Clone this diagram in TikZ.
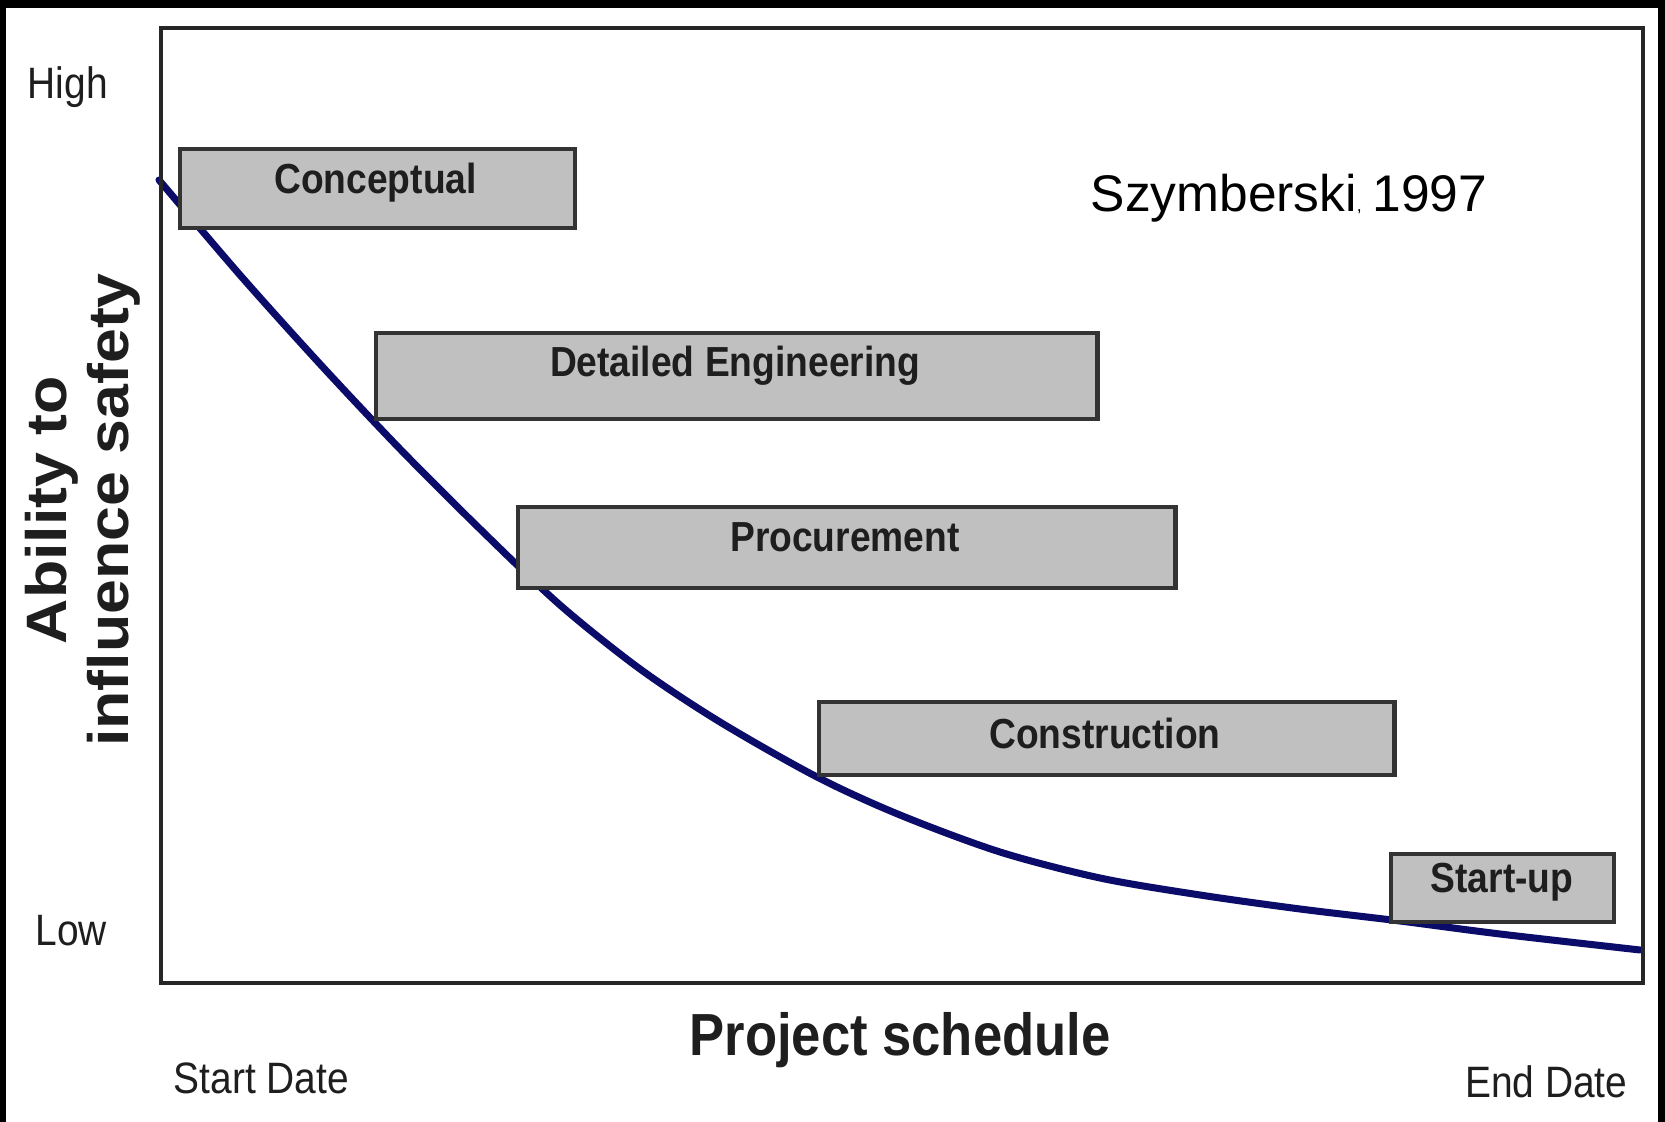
\documentclass[tikz,border=0pt]{standalone}
\usepackage{fontspec}
\setmainfont{Liberation Sans}
\newfontfamily\chartfont[FakeStretch=0.885]{Liberation Sans}
\newfontfamily\axisfont[FakeStretch=1.1]{Liberation Sans}
\definecolor{framegray}{HTML}{262626}
\definecolor{phasefill}{HTML}{C0C0C0}
\definecolor{phaseedge}{HTML}{333333}
\definecolor{curvenavy}{HTML}{0B0B6A}
\definecolor{inkgray}{HTML}{1E1E1E}
\tikzset{
  phase/.style={draw=phaseedge, fill=phasefill, line width=1.2pt, inner sep=0pt, anchor=north west},
  phaselabel/.style={inner sep=0pt, anchor=base, text=inkgray, font=\chartfont\bfseries\fontsize{11.95}{14}\selectfont},
  ticklabel/.style={inner sep=0pt, text=inkgray, font=\chartfont\fontsize{12.5}{15}\selectfont},
  axislabel/.style={inner sep=0pt, anchor=base, rotate=90, text=inkgray, font=\axisfont\bfseries\fontsize{16.2}{19}\selectfont},
}
\begin{document}
\begin{tikzpicture}[x=0.01cm, y=-0.01cm]
  % page and outer black border
  \useasboundingbox (0,0) rectangle (1665,1122);
  \fill[black] (0,0) rectangle (1665,1122);
  \fill[white] (6,8) rectangle (1658,1122);

  % ability curve
  \draw[curvenavy, line width=2pt, line cap=round]
    plot[smooth, tension=0.5] coordinates {
      (159,180) (240,275) (320,364) (400,449) (480,529) (560,605)
      (640,669) (720,722) (817,777) (900,815) (1000,852) (1100,878)
      (1200,895) (1300,909) (1400,921) (1500,934) (1640,950)};

  % plot frame
  \node[draw=framegray, line width=1.15pt, inner sep=0pt, anchor=north west,
        minimum width=14.81cm, minimum height=9.54cm] (frame) at (159,26) {};

  % project phases
  \node[phase, minimum width=3.95cm, minimum height=0.79cm] (concept) at (178,147) {};
  \node[phase, minimum width=7.21cm, minimum height=0.86cm] (detail)  at (374,331) {};
  \node[phase, minimum width=6.57cm, minimum height=0.81cm] (procure) at (516,505) {};
  \node[phase, minimum width=5.75cm, minimum height=0.73cm] (build)   at (817,700) {};
  \node[phase, minimum width=2.23cm, minimum height=0.68cm] (startup) at (1389,852) {};

  \node[phaselabel] (conceptT) at (375.5,194) {Conceptual};
  \node[phaselabel] (detailT)  at (735,377)   {Detailed Engineering};
  \node[phaselabel] (procureT) at (845,552)   {Procurement};
  \node[phaselabel] (buildT)   at (1105,749)  {Construction};
  \node[phaselabel] (startupT) at (1502,893)  {Start-up};

  % axis texts
  \node[ticklabel, anchor=base west] (high)  at (27,99)    {High};
  \node[ticklabel, anchor=base west] (low)   at (35,946)   {Low};
  \node[ticklabel, anchor=base west] (start) at (173,1094) {Start Date};
  \node[ticklabel, anchor=base east] (end)   at (1628,1098) {End Date};
  \node[inner sep=0pt, anchor=base, text=inkgray,
        font=\chartfont\bfseries\fontsize{16.9}{20}\selectfont] (xlab) at (900,1056) {Project schedule};
  \node[axislabel] (ylab1) at (67,510)  {Ability to};
  \node[axislabel] (ylab2) at (128,510) {influence safety};

  % source
  \node[inner sep=0pt, anchor=base west, font=\fontsize{14.65}{17}\selectfont] (source) at (1090,212)
    {Szymberski{\fontsize{5}{6}\selectfont,}\hspace{3pt}1997};
\end{tikzpicture}
\end{document}
